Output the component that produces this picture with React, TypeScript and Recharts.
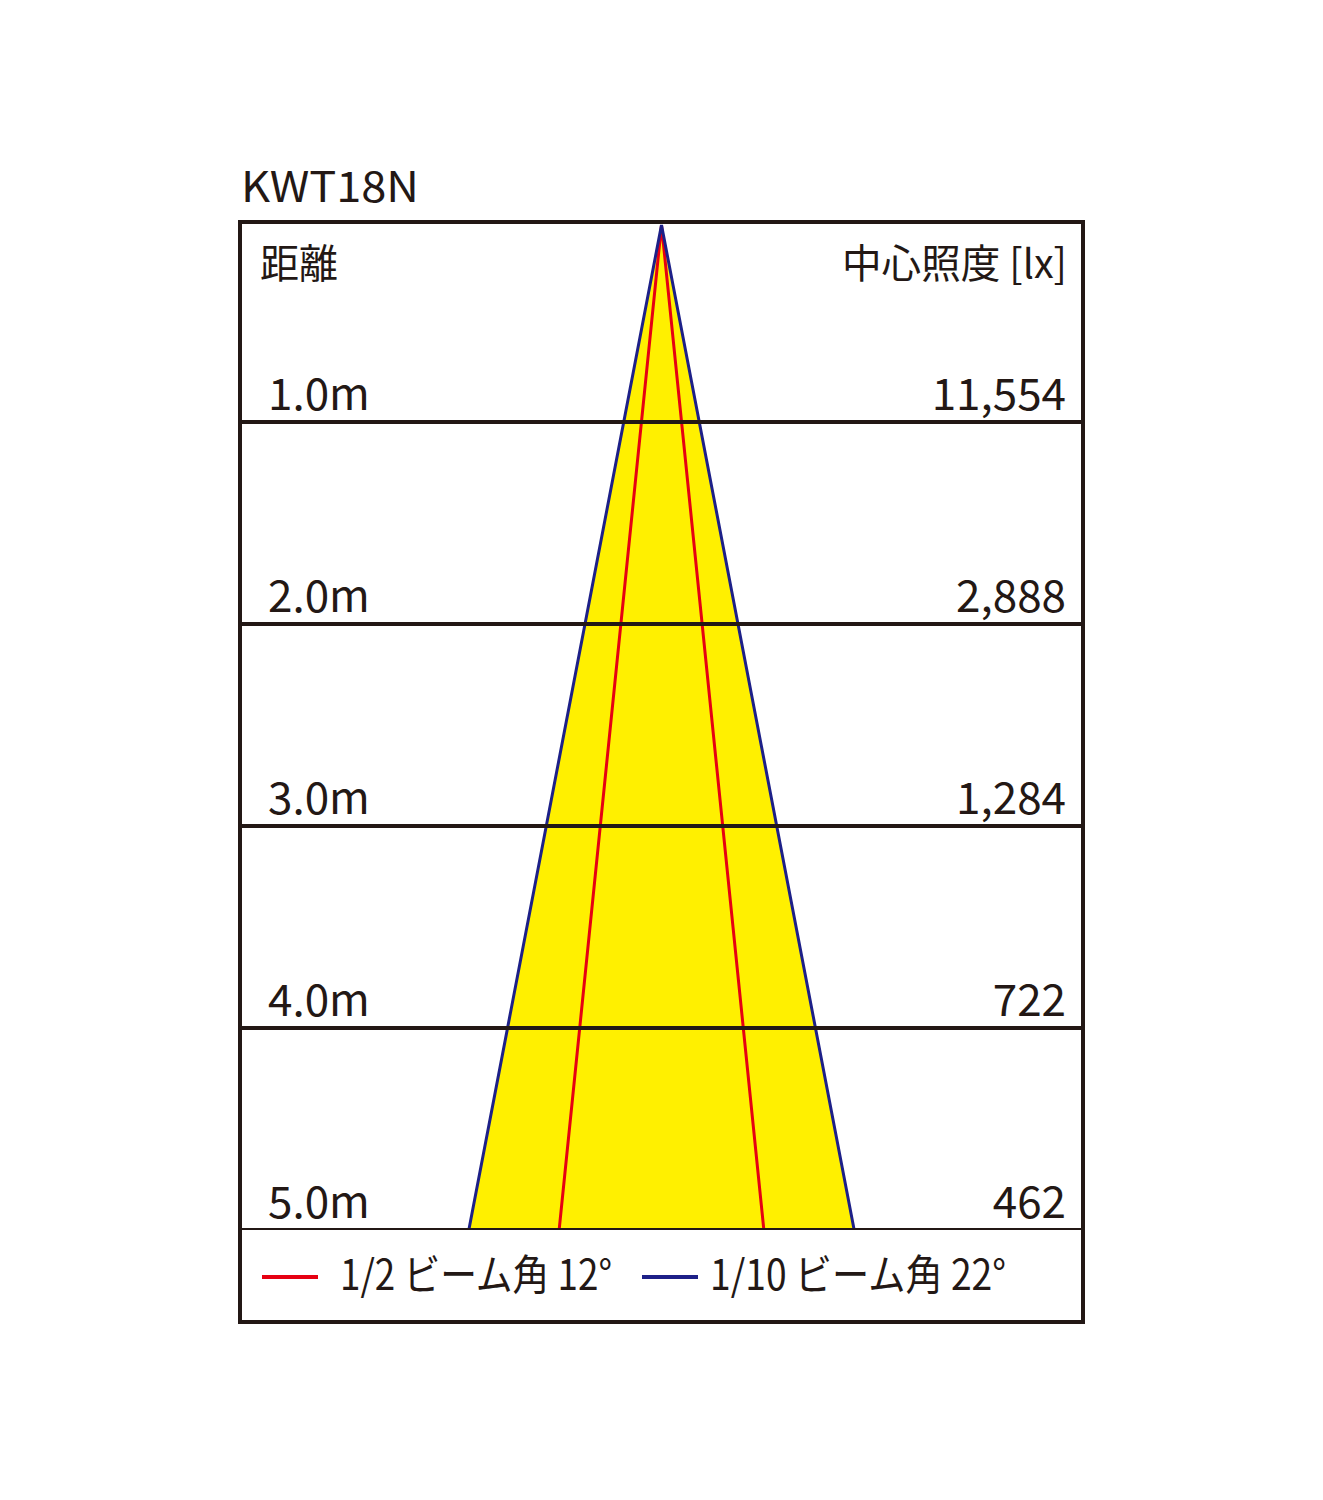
import React from 'react';
import { ScatterChart, Scatter, XAxis, YAxis, ReferenceLine } from 'recharts';

const modelName = 'KWT18N';
const leftHeader = '距離';
const rightHeader = '中心照度 [lx]';
const distances = [1, 2, 3, 4, 5];
const distanceLabels = ['1.0m', '2.0m', '3.0m', '4.0m', '5.0m'];
const centerIlluminance = ['11,554', '2,888', '1,284', '722', '462'];
const beamDistance = [5, 0.025, 5];
const halfBeamX = [-0.51, 0, 0.51];
const tenthBeamX = [-0.96, 0, 0.96];
const gridX = [-2.1, 2.1];
const legendLabels = ['1/2 ビーム角 12°', '1/10 ビーム角 22°'];

const halfBeam = beamDistance.map((d, i) => ({ x: halfBeamX[i], d }));
const tenthBeam = beamDistance.map((d, i) => ({ x: tenthBeamX[i], d }));
const gridRows = distances.map((d) => gridX.map((x) => ({ x, d })));

const TEXT = '#231815';
const RED = '#E60012';
const BLUE = '#1D2088';
const YELLOW = '#FFF000';
const FONT = '"Noto Sans CJK JP", "Noto Sans", sans-serif';

const NoDot = () => <g />;

const LevelLabel = (props: any) => {
  const { viewBox, left, right } = props;
  const { x, y, width } = viewBox;
  return (
    <g>
      <text x={x + 28} y={y - 12} fontSize={44} fill={TEXT} fontFamily={FONT}>
        {left}
      </text>
      <text x={x + width - 17} y={y - 12} fontSize={44} fill={TEXT} fontFamily={FONT} textAnchor="end">
        {right}
      </text>
    </g>
  );
};

export default function App() {
  return (
    <div style={{ position: 'relative', width: 1307, height: 1420 }}>
      <ScatterChart
        width={1307}
        height={1420}
        margin={{ top: 212, bottom: 198, left: 232, right: 232 }}
      >
        <XAxis type="number" dataKey="x" domain={[-2.1, 2.1]} hide allowDataOverflow />
        <YAxis type="number" dataKey="d" domain={[0, 5]} reversed hide width={0} allowDataOverflow />
        <Scatter
          data={tenthBeam}
          shape={NoDot}
          line={{ fill: YELLOW, stroke: 'none' }}
          isAnimationActive={false}
        />
        <Scatter
          data={halfBeam}
          shape={NoDot}
          line={{ stroke: RED, strokeWidth: 3, fill: 'none' }}
          isAnimationActive={false}
        />
        <Scatter
          data={tenthBeam}
          shape={NoDot}
          line={{ stroke: BLUE, strokeWidth: 3, fill: 'none' }}
          isAnimationActive={false}
        />
        {gridRows.map((row, i) => (
          <Scatter
            key={`grid-${i}`}
            data={row}
            shape={NoDot}
            line={{ stroke: TEXT, strokeWidth: 4, fill: 'none' }}
            isAnimationActive={false}
          />
        ))}
        {distances.map((d, i) => (
          <ReferenceLine
            key={d}
            y={d}
            stroke="none"
            strokeOpacity={0}
            ifOverflow="visible"
            label={<LevelLabel left={distanceLabels[i]} right={centerIlluminance[i]} />}
          />
        ))}
      </ScatterChart>
      <div
        style={{
          position: 'absolute',
          left: 230,
          top: 212,
          width: 847,
          height: 1104,
          border: `4px solid ${TEXT}`,
          boxSizing: 'border-box',
          pointerEvents: 'none',
        }}
      />
      <svg
        width={1307}
        height={1420}
        style={{ position: 'absolute', left: 0, top: 0, pointerEvents: 'none' }}
        fontFamily={FONT}
        fill={TEXT}
      >
        <text x={233} y={194} fontSize={42} textLength={178} lengthAdjust="spacingAndGlyphs">
          {modelName}
        </text>
        <text x={252} y={270} fontSize={40} textLength={78} lengthAdjust="spacingAndGlyphs">
          {leftHeader}
        </text>
        <text x={834} y={270} fontSize={40} textLength={225} lengthAdjust="spacingAndGlyphs">
          {rightHeader}
        </text>
        <line x1={254} x2={310} y1={1269} y2={1269} stroke={RED} strokeWidth={4} />
        <text x={332} y={1282} fontSize={42} textLength={272} lengthAdjust="spacingAndGlyphs">
          {legendLabels[0]}
        </text>
        <line x1={634} x2={690} y1={1269} y2={1269} stroke={BLUE} strokeWidth={4} />
        <text x={702} y={1282} fontSize={42} textLength={296} lengthAdjust="spacingAndGlyphs">
          {legendLabels[1]}
        </text>
      </svg>
    </div>
  );
}
